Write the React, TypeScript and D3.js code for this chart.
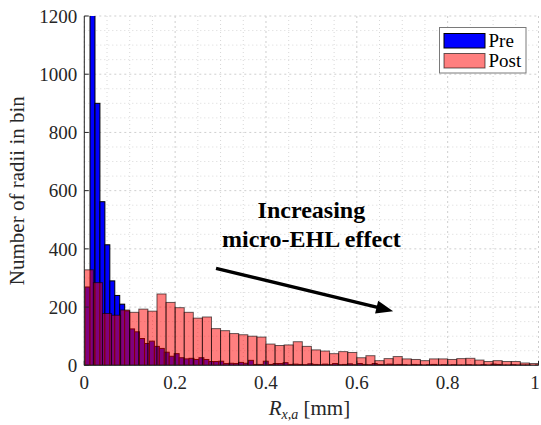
import React from "react";
import * as d3 from "d3";

// Pre histogram: bin start, bin width, counts
const preStart = 0.0017;
const preWidth = 0.0109;
const preCounts = [
  269, 1700, 900, 562, 414, 290, 240, 210, 187, 125, 115, 92, 75, 83, 65, 58, 45, 31, 40, 26,
  22, 24, 20, 26, 20, 13, 13, 14, 6, 7, 6, 10, 7, 17, 3, 3, 14, 3, 6, 6,
  9, 3, 4, 3, 2, 5, 3, 2, 4, 2, 6, 2, 3, 5, 2, 6, 3, 2, 6, 3,
  2, 4, 2, 3, 2, 1, 3, 2, 1, 2, 3, 1, 2, 1, 2, 1, 1, 2, 1, 1,
  2, 1, 4, 3, 1, 1, 2, 1, 1, 1, 0, 1,
];

// Post histogram
const postStart = 0;
const postWidth = 0.02;
const postCounts = [
  328, 284, 178, 172, 190, 182, 193, 186, 245, 216, 198, 182, 162, 166, 126, 119, 109, 105, 100, 97,
  73, 68, 70, 81, 65, 53, 49, 40, 47, 44, 26, 33, 16, 23, 30, 22, 20, 16, 22, 22,
  20, 23, 24, 18, 13, 16, 13, 13, 8, 6,
];

const xTicks = [0, 0.2, 0.4, 0.6, 0.8, 1];
const xTickLabels = ["0", "0.2", "0.4", "0.6", "0.8", "1"];
const yTicks = [0, 200, 400, 600, 800, 1000, 1200];
const legendLabels = ["Pre", "Post"];
const annotationLines = ["Increasing", "micro-EHL effect"];
const arrowFrom = [0.29, 333];
const arrowTo = [0.68, 186];

const W = 541;
const H = 425;
const L = 84.3;
const R = 538.5;
const T = 16;
const B = 365.3;
const serif = "'Liberation Serif', 'DejaVu Serif', serif";

export default function App() {
  const x = d3.scaleLinear().domain([0, 1]).range([L, R]);
  const y = d3.scaleLinear().domain([0, 1200]).range([B, T]);

  const minorX = d3.range(0, 1.0001, 0.05).filter((v) => Math.abs(v / 0.2 - Math.round(v / 0.2)) > 1e-6);
  const minorY = d3.range(0, 1200.001, 50).filter((v) => v % 200 !== 0);

  const preBars = preCounts.map((c, i) => {
    const x0 = preStart + i * preWidth;
    return { x0, x1: x0 + preWidth, c };
  });
  const postBars = postCounts.map((c, i) => {
    const x0 = postStart + i * postWidth;
    return { x0, x1: x0 + postWidth, c };
  });

  // arrow
  const ax1 = x(arrowFrom[0]);
  const ay1 = y(arrowFrom[1]);
  const ax2 = x(arrowTo[0]);
  const ay2 = y(arrowTo[1]);
  const len = Math.hypot(ax2 - ax1, ay2 - ay1);
  const ux = (ax2 - ax1) / len;
  const uy = (ay2 - ay1) / len;
  const headLen = 17;
  const headHalf = 6.5;
  const bx = ax2 - ux * headLen;
  const by = ay2 - uy * headLen;
  const head = [
    [ax2, ay2],
    [bx - uy * headHalf, by + ux * headHalf],
    [bx + uy * headHalf, by - ux * headHalf],
  ];

  return (
    <svg
      width={W}
      height={H}
      style={{ position: "absolute", left: 0, top: 0, background: "#fff", fontFamily: serif }}
    >
      <rect x={0} y={0} width={W} height={H} fill="#fff" />
      <defs>
        <clipPath id="plotclip">
          <rect x={L} y={T} width={R - L} height={B - T} />
        </clipPath>
      </defs>
      {/* grid */}
      <g>
        {minorX.map((v) => (
          <line key={"mx" + v} x1={x(v)} x2={x(v)} y1={T} y2={B} stroke="#d8d8d8" strokeWidth={1} strokeDasharray="1,3" />
        ))}
        {minorY.map((v) => (
          <line key={"my" + v} x1={L} x2={R} y1={y(v)} y2={y(v)} stroke="#d8d8d8" strokeWidth={1} strokeDasharray="1,3" />
        ))}
        {xTicks.map((v) => (
          <line key={"gx" + v} x1={x(v)} x2={x(v)} y1={T} y2={B} stroke="#cfcfcf" strokeWidth={1} strokeDasharray="2,3" />
        ))}
        {yTicks.map((v) => (
          <line key={"gy" + v} x1={L} x2={R} y1={y(v)} y2={y(v)} stroke="#cfcfcf" strokeWidth={1} strokeDasharray="2,3" />
        ))}
      </g>
      {/* bars */}
      <g clipPath="url(#plotclip)">
        {preBars.map((b, i) =>
          b.c > 0 ? (
            <rect
              key={"pre" + i}
              x={x(b.x0)}
              y={y(b.c)}
              width={x(b.x1) - x(b.x0)}
              height={y(0) - y(b.c)}
              fill="#0000ff"
              stroke="#000"
              strokeWidth={1}
            />
          ) : null
        )}
        {postBars.map((b, i) => (
          <rect
            key={"post" + i}
            x={x(b.x0)}
            y={y(b.c)}
            width={x(b.x1) - x(b.x0)}
            height={y(0) - y(b.c)}
            fill="#ff0000"
            fillOpacity={0.5}
            stroke="#000"
            strokeOpacity={0.6}
            strokeWidth={1}
          />
        ))}
      </g>
      {/* axes */}
      <line x1={L} x2={L} y1={T} y2={B} stroke="#262626" strokeWidth={1} />
      <line x1={L} x2={R} y1={B} y2={B} stroke="#262626" strokeWidth={1} />
      {yTicks.map((v) => (
        <g key={"yt" + v}>
          <line x1={L} x2={L + 4.5} y1={y(v)} y2={y(v)} stroke="#262626" strokeWidth={1} />
          <text x={L - 7} y={y(v)} dy="0.35em" textAnchor="end" fontSize={19} fill="#262626">
            {v}
          </text>
        </g>
      ))}
      {xTicks.map((v, i) => (
        <g key={"xt" + v}>
          <line x1={x(v)} x2={x(v)} y1={B} y2={B - 4.5} stroke="#262626" strokeWidth={1} />
          <text x={Math.min(x(v), W - 6)} y={389} textAnchor="middle" fontSize={19} fill="#262626">
            {xTickLabels[i]}
          </text>
        </g>
      ))}
      {/* axis labels */}
      <text
        transform={`translate(24,${(T + B) / 2}) rotate(-90)`}
        textAnchor="middle"
        fontSize={21}
        fill="#262626"
      >
        Number of radii in bin
      </text>
      <text x={(L + R) / 2 - 2} y={415} textAnchor="middle" fontSize={21} fill="#262626">
        <tspan fontStyle="italic">R</tspan>
        <tspan fontStyle="italic" fontSize={14} dy={4}>x</tspan>
        <tspan fontSize={14}>,</tspan>
        <tspan fontStyle="italic" fontSize={14}>a</tspan>
        <tspan dy={-4}> [mm]</tspan>
      </text>
      {/* annotation */}
      <text x={x(0.5)} y={217.5} textAnchor="middle" fontSize={24} fontWeight="bold" fill="#000">
        {annotationLines[0]}
      </text>
      <text x={x(0.5)} y={246.5} textAnchor="middle" fontSize={24} fontWeight="bold" fill="#000">
        {annotationLines[1]}
      </text>
      <line x1={ax1} y1={ay1} x2={bx + ux * 2} y2={by + uy * 2} stroke="#000" strokeWidth={3.5} />
      <polygon points={head.map((p) => p.join(",")).join(" ")} fill="#000" />
      {/* legend */}
      <g>
        <rect x={439.5} y={27.5} width={86.5} height={45.5} fill="#fff" stroke="#7a7a7a" strokeWidth={1} />
        <rect x={444} y={33.5} width={41} height={14.5} fill="#0000ff" stroke="#000" strokeWidth={1} />
        <rect x={444} y={53.5} width={41} height={14.5} fill="#ff0000" fillOpacity={0.5} stroke="#000" strokeOpacity={0.6} strokeWidth={1} />
        <text x={488.5} y={46.5} fontSize={19} fill="#000">{legendLabels[0]}</text>
        <text x={488.5} y={66.5} fontSize={19} fill="#000">{legendLabels[1]}</text>
      </g>
    </svg>
  );
}
